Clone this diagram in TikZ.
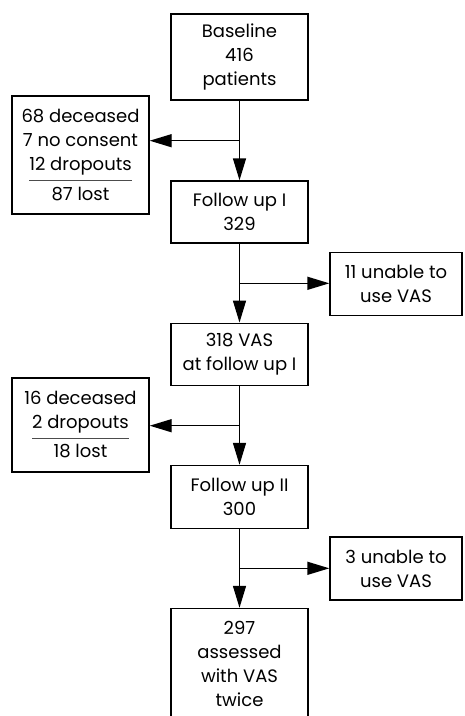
\documentclass[tikz,border=0pt]{standalone}
\usepackage{fontspec}
\setmainfont{Poppins}
\usetikzlibrary{arrows.meta}
\newcommand\rulebelow[1]{\leavevmode\setbox0\hbox{#1}\rlap{\raisebox{-10pt}{\color{black!70}\rule{\wd0}{0.9pt}}}\box0}
\begin{document}
\begin{tikzpicture}[x=1pt,y=-1pt,
  box/.style={draw, line width=1.4pt, inner sep=0pt, align=center,
    font=\fontsize{18}{24}\selectfont},
  flow/.style={line width=1.4pt, -{Triangle[length=22pt,width=13pt]}},
  plain/.style={line width=1.4pt}]
\useasboundingbox (0,0) rectangle (464,716);
\fill[white] (0,0) rectangle (464,716);
\clip (0,0) rectangle (464,716);
\node[box, minimum width=137pt, minimum height=86pt] (base) at (239.5,57) {Baseline\\416\\patients};
\node[box, minimum width=137pt, minimum height=118pt] (lost1) at (80.5,155) {68 deceased\\7 no consent\\\rulebelow{12 dropouts}\\[6pt]87 lost};
\node[box, minimum width=137pt, minimum height=62pt] (fu1) at (239.5,212) {Follow up I\\329};
\node[box, minimum width=132pt, minimum height=62.5pt] (un1) at (396,284) {11 unable to\\use VAS};
\node[box, minimum width=137pt, minimum height=62.5pt] (vas1) at (239.5,354.5) {318 VAS\\at follow up I};
\node[box, minimum width=137pt, minimum height=94pt] (lost2) at (80.5,425) {16 deceased\\\rulebelow{2 dropouts}\\[5pt]18 lost};
\node[box, minimum width=137pt, minimum height=63pt] (fu2) at (239.5,497) {Follow up II\\300};
\node[box, minimum width=132pt, minimum height=63pt] (un2) at (396,568.5) {3 unable to\\use VAS};
\node[box, minimum width=137pt, minimum height=111pt] (last) at (239.5,664) {297\\assessed\\with VAS\\twice};
\coordinate (b1) at (239.5,140.7);
\coordinate (b2) at (239.5,283.3);
\coordinate (b3) at (239.5,425.7);
\coordinate (b4) at (239.5,568.3);
\draw[flow] (base) -- (fu1);
\draw[flow] (b1) -- (b1 -| lost1.east);
\draw[flow] (fu1) -- (vas1);
\draw[flow] (b2) -- (b2 -| un1.west);
\draw[flow] (vas1) -- (fu2);
\draw[flow] (b3) -- (b3 -| lost2.east);
\draw[flow] (fu2) -- (last);
\draw[flow] (b4) -- (b4 -| un2.west);
\end{tikzpicture}
\end{document}
